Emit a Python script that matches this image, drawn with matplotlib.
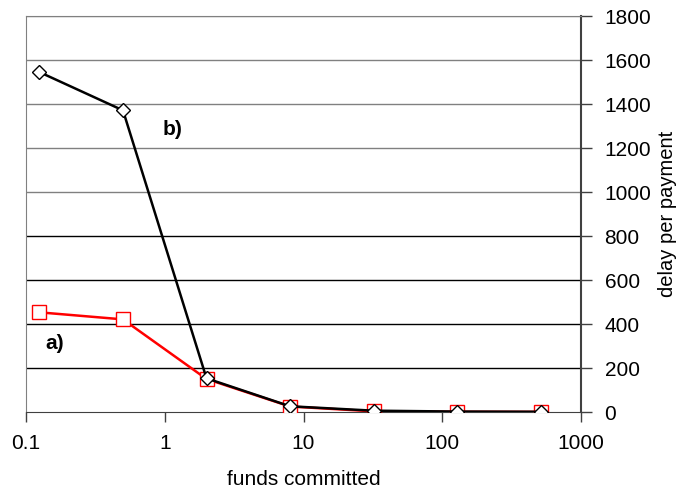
import numpy as np
import matplotlib
matplotlib.use("Agg")
import matplotlib.pyplot as plt

plt.rcParams['font.family'] = ['Liberation Sans', 'DejaVu Sans']

funds = [0.125, 0.5, 2, 8, 32, 128, 512]
delay_a = [453, 421, 150, 25, 3, 1, 0.5]
delay_b = [1545, 1371, 153, 26, 6, 2, 1]
yticks = [0, 200, 400, 600, 800, 1000, 1200, 1400, 1600, 1800]
xticks = [0.1, 1, 10, 100, 1000]
xlabels = ['0.1', '1', '10', '100', '1000']

fig = plt.figure(figsize=(6.82, 4.88), dpi=100)
ax = fig.add_axes([26/682, 1-412/488, (581-26)/682, (412-16)/488])

# horizontal gridlines: upper ones come out grey, lower ones black
for v in yticks[1:]:
    c = '#808080' if v >= 1000 else 'black'
    ax.axhline(v, color=c, linewidth=1.0, zorder=1)

ax.plot(funds, delay_a, '-', color='#ff0000', linewidth=1.8, marker='s', markersize=10,
        markerfacecolor='white', markeredgecolor='#ff0000', markeredgewidth=1.0, zorder=3)
ax.plot(funds, delay_b, '-', color='black', linewidth=1.8, marker='D', markersize=7.5,
        markerfacecolor='white', markeredgecolor='black', markeredgewidth=1.0, zorder=4)

ax.set_xscale('log')
ax.set_xlim(0.1, 1000)
ax.set_ylim(0, 1800)

ax.yaxis.tick_right()
ax.yaxis.set_label_position('right')
ax.set_yticks(yticks)
ax.set_yticklabels([str(v) for v in yticks], fontsize=15)
ax.set_xticks(xticks)
ax.set_xticklabels(xlabels, fontsize=15)
ax.xaxis.set_minor_locator(matplotlib.ticker.NullLocator())
ax.tick_params(axis='y', direction='out', length=8, width=1, color='#404040', pad=9)
ax.tick_params(axis='x', direction='out', length=7, width=1, color='#404040', pad=9)

ax.set_xlabel('funds committed', fontsize=15, labelpad=12)
ax.set_ylabel('delay per payment', fontsize=14.5, labelpad=5)

ax.spines['top'].set_color('#808080')
ax.spines['left'].set_color('#808080')
ax.spines['right'].set_color('#404040')
ax.spines['right'].set_linewidth(1.5)
ax.spines['bottom'].set_color('#404040')

ax.text(1.13, 1286, 'b)', fontsize=15, fontweight='bold', ha='center', va='center')
ax.text(0.16, 312, 'a)', fontsize=15, fontweight='bold', ha='center', va='center')

plt.savefig('out.png', dpi=100)
